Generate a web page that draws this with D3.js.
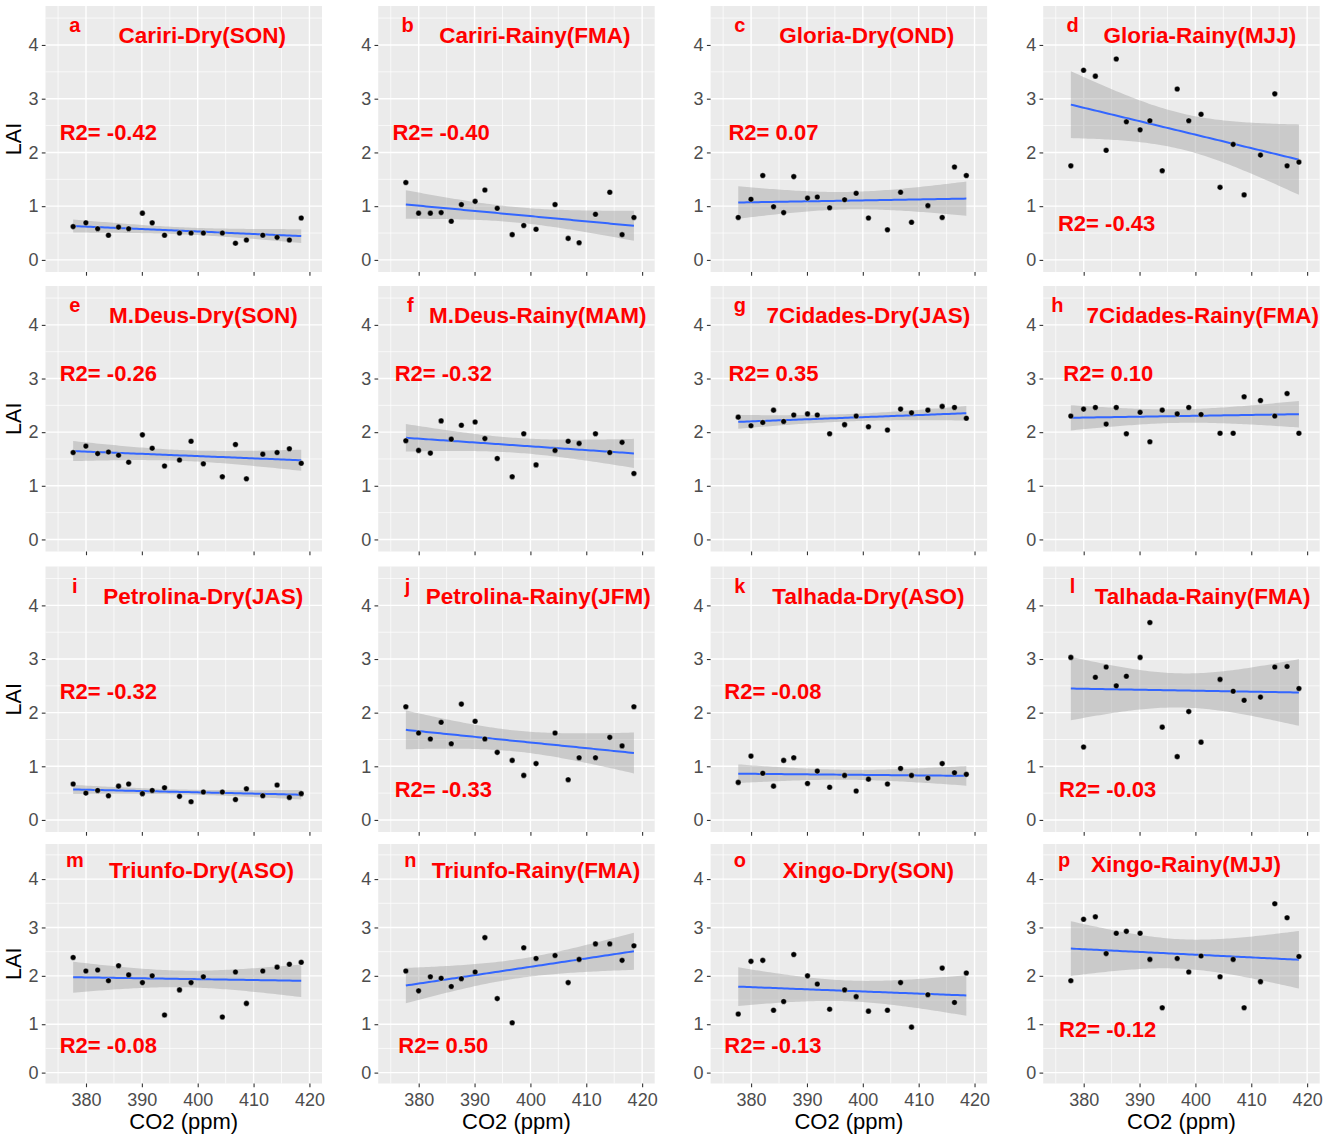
<!DOCTYPE html>
<html>
<head>
<meta charset="utf-8">
<title>LAI vs CO2</title>
<style>
  body { margin: 0; background: #fff; }
  svg { display: block; font-family: 'Liberation Sans', Arial, sans-serif; }
  .red { fill: #ff0000; font-weight: bold; }
</style>
</head>
<body>
<script src="https://cdn.jsdelivr.net/npm/d3@7"></script>
<script>
// x values: annual CO2 (ppm), one per year, shared by all panels
var co2 = [377.70, 379.98, 382.09, 384.02, 385.83, 387.64, 390.10, 391.85, 394.06,
           396.74, 398.81, 401.01, 404.41, 406.76, 408.72, 411.65, 414.21, 416.41, 418.53];

var letters = "abcdefghijklmnop".split("");
var titles = ["Cariri-Dry(SON)", "Cariri-Rainy(FMA)", "Gloria-Dry(OND)", "Gloria-Rainy(MJJ)",
              "M.Deus-Dry(SON)", "M.Deus-Rainy(MAM)", "7Cidades-Dry(JAS)", "7Cidades-Rainy(FMA)",
              "Petrolina-Dry(JAS)", "Petrolina-Rainy(JFM)", "Talhada-Dry(ASO)", "Talhada-Rainy(FMA)",
              "Triunfo-Dry(ASO)", "Triunfo-Rainy(FMA)", "Xingo-Dry(SON)", "Xingo-Rainy(MJJ)"];
var r2 = [-0.42, -0.40, 0.07, -0.43, -0.26, -0.32, 0.35, 0.10,
          -0.32, -0.33, -0.08, -0.03, -0.08, 0.50, -0.13, -0.12];

// LAI per panel
var laiA = [0.62, 0.69, 0.58, 0.46, 0.61, 0.58, 0.87, 0.69, 0.46, 0.50, 0.50, 0.50, 0.50, 0.31, 0.37, 0.46, 0.42, 0.37, 0.78];
var laiB = [1.44, 0.87, 0.87, 0.88, 0.72, 1.03, 1.09, 1.30, 0.96, 0.47, 0.64, 0.57, 1.03, 0.40, 0.32, 0.85, 1.26, 0.47, 0.79];
var laiC = [0.79, 1.13, 1.57, 0.99, 0.88, 1.55, 1.15, 1.17, 0.97, 1.12, 1.24, 0.78, 0.56, 1.26, 0.70, 1.01, 0.79, 1.73, 1.57];
var laiD = [1.75, 3.53, 3.42, 2.04, 3.74, 2.57, 2.42, 2.59, 1.66, 3.18, 2.59, 2.71, 1.35, 2.15, 1.21, 1.95, 3.09, 1.75, 1.82];
var laiE = [1.62, 1.74, 1.60, 1.63, 1.57, 1.44, 1.95, 1.70, 1.37, 1.48, 1.83, 1.41, 1.17, 1.77, 1.13, 1.59, 1.62, 1.69, 1.42];
var laiF = [1.84, 1.66, 1.61, 2.21, 1.87, 2.13, 2.19, 1.88, 1.51, 1.17, 1.97, 1.39, 1.66, 1.83, 1.79, 1.97, 1.62, 1.81, 1.23];
var laiG = [2.28, 2.12, 2.18, 2.41, 2.20, 2.32, 2.34, 2.32, 1.97, 2.14, 2.30, 2.10, 2.04, 2.43, 2.36, 2.41, 2.48, 2.46, 2.26];
var laiH = [2.30, 2.43, 2.46, 2.15, 2.46, 1.97, 2.37, 1.82, 2.41, 2.34, 2.46, 2.33, 1.98, 1.98, 2.66, 2.59, 2.30, 2.72, 1.98];
var laiI = [0.67, 0.50, 0.55, 0.45, 0.63, 0.67, 0.49, 0.55, 0.60, 0.44, 0.34, 0.52, 0.52, 0.38, 0.58, 0.45, 0.65, 0.42, 0.49];
var laiJ = [2.11, 1.62, 1.51, 1.82, 1.42, 2.16, 1.84, 1.51, 1.26, 1.11, 0.83, 1.05, 1.62, 0.75, 1.16, 1.16, 1.54, 1.38, 2.11];
var laiK = [0.70, 1.19, 0.87, 0.63, 1.11, 1.16, 0.68, 0.91, 0.61, 0.83, 0.54, 0.76, 0.67, 0.96, 0.83, 0.78, 1.05, 0.88, 0.85];
var laiL = [3.03, 1.36, 2.66, 2.85, 2.50, 2.68, 3.03, 3.68, 1.73, 1.18, 2.02, 1.45, 2.62, 2.40, 2.23, 2.29, 2.85, 2.86, 2.45];
var laiM = [2.38, 2.10, 2.12, 1.90, 2.21, 2.02, 1.86, 2.00, 1.19, 1.71, 1.86, 1.98, 1.15, 2.08, 1.43, 2.10, 2.18, 2.24, 2.28];
var laiN = [2.10, 1.69, 1.98, 1.95, 1.78, 1.94, 2.08, 2.79, 1.53, 1.03, 2.58, 2.36, 2.42, 1.86, 2.34, 2.66, 2.66, 2.32, 2.62];
var laiO = [1.21, 2.30, 2.32, 1.29, 1.47, 2.44, 2.00, 1.83, 1.31, 1.71, 1.57, 1.27, 1.29, 1.86, 0.94, 1.61, 2.16, 1.45, 2.06];
var laiP = [1.90, 3.17, 3.22, 2.46, 2.88, 2.92, 2.88, 2.34, 1.34, 2.36, 2.08, 2.41, 1.98, 2.34, 1.34, 1.88, 3.49, 3.20, 2.40];
var lai = [laiA, laiB, laiC, laiD, laiE, laiF, laiG, laiH, laiI, laiJ, laiK, laiL, laiM, laiN, laiO, laiP];

var xTicks = [380, 390, 400, 410, 420];
var yTicks = [0, 1, 2, 3, 4];

// where the in-panel labels sit, in data units (ppm, LAI)
var letterX = [378, 378, 378, 378, 378, 378.5, 378, 375.3, 378, 378, 378, 378, 378, 378.5, 378, 376.5];
var titleX = [400.8, 400.8, 400.7, 400.8, 401, 401.3, 401, 401.3, 401, 401.4, 401, 401.3, 400.7, 401, 401, 398.3];
var titleY = [4.03, 4.03, 4.03, 4.03, 4.03, 4.03, 4.03, 4.03, 4.03, 4.03, 4.03, 4.03, 4.03, 4.03, 4.03, 4.15];
var r2X = [384, 384, 384, 384.1, 384, 384.4, 384, 384.4, 384, 384.4, 383.9, 384.3, 384, 384.4, 383.9, 384.3];
var r2Y = [2.23, 2.23, 2.23, 0.53, 2.95, 2.95, 2.95, 2.95, 2.25, 0.42, 2.25, 0.42, 0.41, 0.41, 0.41, 0.74];

// layout
var W = 1325, H = 1145;
var colLeft = [45.5, 378.2, 710.6, 1043.2], panelW = 276.5;
var rowTop = [6, 286, 566.5, 844], rowH = [266, 265.5, 265.5, 239.5];

var svg = d3.select("body").append("svg")
  .attr("width", W)
  .attr("height", H);

// linear fit + 95% confidence band, like geom_smooth(method = "lm")
function smooth(xs, ys) {
  var n = xs.length;
  var mx = d3.mean(xs), my = d3.mean(ys);
  var sxx = d3.sum(xs, function (x) { return (x - mx) * (x - mx); });
  var sxy = d3.sum(xs, function (x, i) { return (x - mx) * (ys[i] - my); });
  var b = sxy / sxx, a = my - b * mx;
  var sse = d3.sum(xs, function (x, i) { return Math.pow(ys[i] - (a + b * x), 2); });
  var s = Math.sqrt(sse / (n - 2));
  var t = 2.1098; // qt(0.975, 17)
  var x0 = d3.min(xs), x1 = d3.max(xs);
  return d3.range(80).map(function (k) {
    var x = x0 + k * (x1 - x0) / 79;
    var fit = a + b * x;
    var se = s * Math.sqrt(1 / n + (x - mx) * (x - mx) / sxx);
    return { x: x, fit: fit, lo: fit - t * se, hi: fit + t * se };
  });
}

lai.forEach(function (vals, p) {
  var col = p % 4, row = Math.floor(p / 4);
  var left = colLeft[col], top = rowTop[row], h = rowH[row];
  var bottomRow = row === 3;

  var x = d3.scaleLinear().domain([372.75, 422.25]).range([0, panelW]);
  var y = d3.scaleLinear().domain([-0.225, 4.725]).range([h, 0]);

  var g = svg.append("g").attr("transform", "translate(" + left + "," + top + ")");

  g.append("rect")
    .attr("width", panelW)
    .attr("height", h)
    .attr("fill", "#ebebeb");

  g.append("clipPath").attr("id", "clip" + p)
    .append("rect").attr("width", panelW).attr("height", h);

  // minor grid
  g.selectAll(".vminor").data(d3.range(375, 421, 10)).enter().append("line")
    .attr("x1", x).attr("x2", x).attr("y1", 0).attr("y2", h)
    .attr("stroke", "#fff").attr("stroke-width", 0.7);
  g.selectAll(".hminor").data(d3.range(0.5, 4.6, 1)).enter().append("line")
    .attr("y1", y).attr("y2", y).attr("x1", 0).attr("x2", panelW)
    .attr("stroke", "#fff").attr("stroke-width", 0.7);
  // major grid
  g.selectAll(".vmajor").data(xTicks).enter().append("line")
    .attr("x1", x).attr("x2", x).attr("y1", 0).attr("y2", h)
    .attr("stroke", "#fff").attr("stroke-width", 1.4);
  g.selectAll(".hmajor").data(yTicks).enter().append("line")
    .attr("y1", y).attr("y2", y).attr("x1", 0).attr("x2", panelW)
    .attr("stroke", "#fff").attr("stroke-width", 1.4);

  // smooth
  var band = smooth(co2, vals);
  var plot = g.append("g").attr("clip-path", "url(#clip" + p + ")");
  plot.append("path")
    .datum(band)
    .attr("d", d3.area()
      .x(function (d) { return x(d.x); })
      .y0(function (d) { return y(d.lo); })
      .y1(function (d) { return y(d.hi); }))
    .attr("fill", "#999999")
    .attr("fill-opacity", 0.4);
  plot.append("path")
    .datum(band)
    .attr("d", d3.line()
      .x(function (d) { return x(d.x); })
      .y(function (d) { return y(d.fit); }))
    .attr("fill", "none")
    .attr("stroke", "#3366ff")
    .attr("stroke-width", 2);

  // points
  plot.selectAll("circle").data(vals).enter().append("circle")
    .attr("cx", function (d, i) { return x(co2[i]); })
    .attr("cy", function (d) { return y(d); })
    .attr("r", 2.8)
    .attr("fill", "#000")
    .attr("stroke", "#fff")
    .attr("stroke-width", 0.6)
    .attr("stroke-opacity", 0.6);

  // labels inside the panel
  g.append("text").attr("class", "red")
    .attr("x", x(letterX[p])).attr("y", y(4.24))
    .attr("text-anchor", "middle").attr("font-size", 20)
    .text(letters[p]);
  g.append("text").attr("class", "red")
    .attr("x", x(titleX[p])).attr("y", y(titleY[p]))
    .attr("text-anchor", "middle").attr("font-size", 22.5)
    .text(titles[p]);
  g.append("text").attr("class", "red")
    .attr("x", x(r2X[p])).attr("y", y(r2Y[p]))
    .attr("text-anchor", "middle").attr("font-size", 22)
    .text("R2= " + r2[p].toFixed(2));

  // axes
  var yAxis = g.append("g")
    .call(d3.axisLeft(y).tickValues(yTicks).tickSize(3.7).tickPadding(3.3)
      .tickFormat(d3.format("d")));
  var xAxis = g.append("g")
    .attr("transform", "translate(0," + h + ")")
    .call(d3.axisBottom(x).tickValues(xTicks).tickSize(3.7).tickPadding(5.6)
      .tickFormat(bottomRow ? d3.format("d") : function () { return ""; }));
  [yAxis, xAxis].forEach(function (ax) {
    ax.select(".domain").remove();
    ax.attr("font-family", null).attr("font-size", null);
    ax.selectAll(".tick line").attr("stroke", "#333333").attr("stroke-width", 1.1);
    ax.selectAll(".tick text").attr("fill", "#4d4d4d").attr("font-size", 18);
  });

  if (bottomRow) {
    g.append("text")
      .attr("x", panelW / 2).attr("y", h + 45)
      .attr("text-anchor", "middle").attr("font-size", 22)
      .text("CO2 (ppm)");
  }
  if (col === 0) {
    svg.append("text")
      .attr("transform", "translate(21," + (top + h / 2) + ") rotate(-90)")
      .attr("text-anchor", "middle").attr("font-size", 21.5)
      .text("LAI");
  }
});
</script>
</body>
</html>
